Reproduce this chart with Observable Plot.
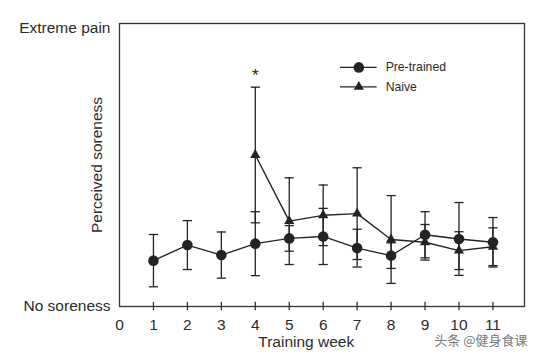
<!DOCTYPE html>
<html>
<head>
<meta charset="utf-8">
<script src="https://cdn.jsdelivr.net/npm/d3@7"></script>
<script src="https://cdn.jsdelivr.net/npm/@observablehq/plot@0.6"></script>
<style>
  html, body { margin: 0; padding: 0; background: #fff; }
  #chart { position: relative; width: 537px; height: 358px; }
</style>
</head>
<body>
<div id="chart"></div>
<script>
// ---- data ----
const weeks = [1, 2, 3, 4, 5, 6, 7, 8, 9, 10, 11];
const pretrainedMean = [1.65, 2.21, 1.85, 2.26, 2.45, 2.52, 2.10, 1.83, 2.58, 2.43, 2.31];
const pretrainedErr  = [0.94, 0.88, 0.83, 1.15, 0.46, 1.01, 0.68, 0.46, 0.83, 1.31, 0.89];
const naiveWeeks = [4, 5, 6, 7, 8, 9, 10, 11];
const naiveMean  = [5.45, 3.07, 3.28, 3.34, 2.41, 2.31, 2.01, 2.15];
const naiveErr   = [2.44, 1.56, 1.09, 1.65, 1.58, 0.64, 0.68, 0.68];
const xTicks = [0, 1, 2, 3, 4, 5, 6, 7, 8, 9, 10, 11];
const yTickValues = [0, 10];
const yTickLabels = ["No soreness", "Extreme pain"];
const seriesNames = ["Pre-trained", "Naive"];
const significantWeek = 4;

// ---- build tables ----
const pre = weeks.map((w, i) => ({week: w, mean: pretrainedMean[i], err: pretrainedErr[i]}));
const naive = naiveWeeks.map((w, i) => ({week: w, mean: naiveMean[i], err: naiveErr[i]}));
const legendPre = [{label: seriesNames[0], y: 8.60}];
const legendNaive = [{label: seriesNames[1], y: 7.90}];
const legend = [...legendPre, ...legendNaive];

const ink = "#232323";
const font = "'Liberation Sans', Arial, Helvetica, sans-serif";
const cap = {
  draw(context, size) {
    const w = Math.sqrt(size / Math.PI);
    context.moveTo(-w, 0);
    context.lineTo(w, 0);
  }
};

function errorMarks(data) {
  return [
    Plot.ruleX(data, {x: "week", y1: d => d.mean - d.err, y2: d => d.mean + d.err, stroke: ink, strokeWidth: 1.3}),
    Plot.dot(data, {x: "week", y: d => d.mean + d.err, symbol: cap, r: 4.6, stroke: ink, strokeWidth: 1.3, fill: "none"}),
    Plot.dot(data, {x: "week", y: d => d.mean - d.err, symbol: cap, r: 4.6, stroke: ink, strokeWidth: 1.3, fill: "none"})
  ];
}

const chart = Plot.plot({
  width: 537,
  height: 358,
  marginLeft: 119,
  marginRight: 13,
  marginTop: 23,
  marginBottom: 52,
  style: {fontFamily: font, fontSize: "15.5px", color: "#2b2b2b", background: "#fff"},
  x: {domain: [0, 11.93]},
  y: {domain: [0, 10.18]},
  marks: [
    Plot.frame({stroke: "#333", strokeWidth: 1.3}),
    // x axis tick marks crossing the axis line
    Plot.ruleX(xTicks.slice(1), {x: d => d, y1: -0.15, y2: 0.15, stroke: "#333", strokeWidth: 1.3}),
    Plot.axisX({ticks: xTicks, tickSize: 0, tickPadding: 12, tickFormat: d => String(d), label: null}),
    Plot.axisY({ticks: yTickValues, tickSize: 0, tickPadding: 9, tickFormat: d => yTickLabels[yTickValues.indexOf(d)], label: null}),
    Plot.text(["Training week"], {x: 5.5, frameAnchor: "bottom", dy: 40, text: d => d, fontSize: 15.5, fill: "#2b2b2b"}),
    Plot.text(["Perceived soreness"], {frameAnchor: "left", textAnchor: "middle", dx: -22, rotate: -90, text: d => d, fontSize: 15.5, fill: "#2b2b2b"}),
    ...errorMarks(naive),
    ...errorMarks(pre),
    Plot.line(naive, {x: "week", y: "mean", stroke: ink, strokeWidth: 1.4}),
    Plot.line(pre, {x: "week", y: "mean", stroke: ink, strokeWidth: 1.4}),
    Plot.dot(naive, {x: "week", y: "mean", symbol: "triangle", r: 3.8, fill: ink, stroke: "none"}),
    Plot.dot(pre, {x: "week", y: "mean", symbol: "circle", r: 5.3, fill: ink, stroke: "none"}),
    // significance marker
    Plot.text(naive.filter(d => d.week === significantWeek), {x: "week", y: d => d.mean + d.err, text: () => "*", dy: -12, fontSize: 17, fill: ink}),
    // legend
    Plot.ruleY(legend, {y: "y", x1: 6.51, x2: 7.59, stroke: ink, strokeWidth: 1.4}),
    Plot.dot(legendPre, {x: 7.05, y: "y", symbol: "circle", r: 5.3, fill: ink, stroke: "none"}),
    Plot.dot(legendNaive, {x: 7.05, y: "y", symbol: "triangle", r: 3.8, fill: ink, stroke: "none"}),
    Plot.text(legend, {x: 7.84, y: "y", text: "label", textAnchor: "start", fontSize: 12.2, fill: "#2b2b2b"}),
    // watermark
    Plot.text(["头条 @健身食课"], {frameAnchor: "bottom-right", dx: 3, dy: 29, lineAnchor: "top", text: d => d, textAnchor: "end", fontSize: 13, fill: "#7a7a7a", fontFamily: "'Noto Sans CJK SC', sans-serif"})
  ]
});

document.getElementById("chart").appendChild(chart);
</script>
</body>
</html>
